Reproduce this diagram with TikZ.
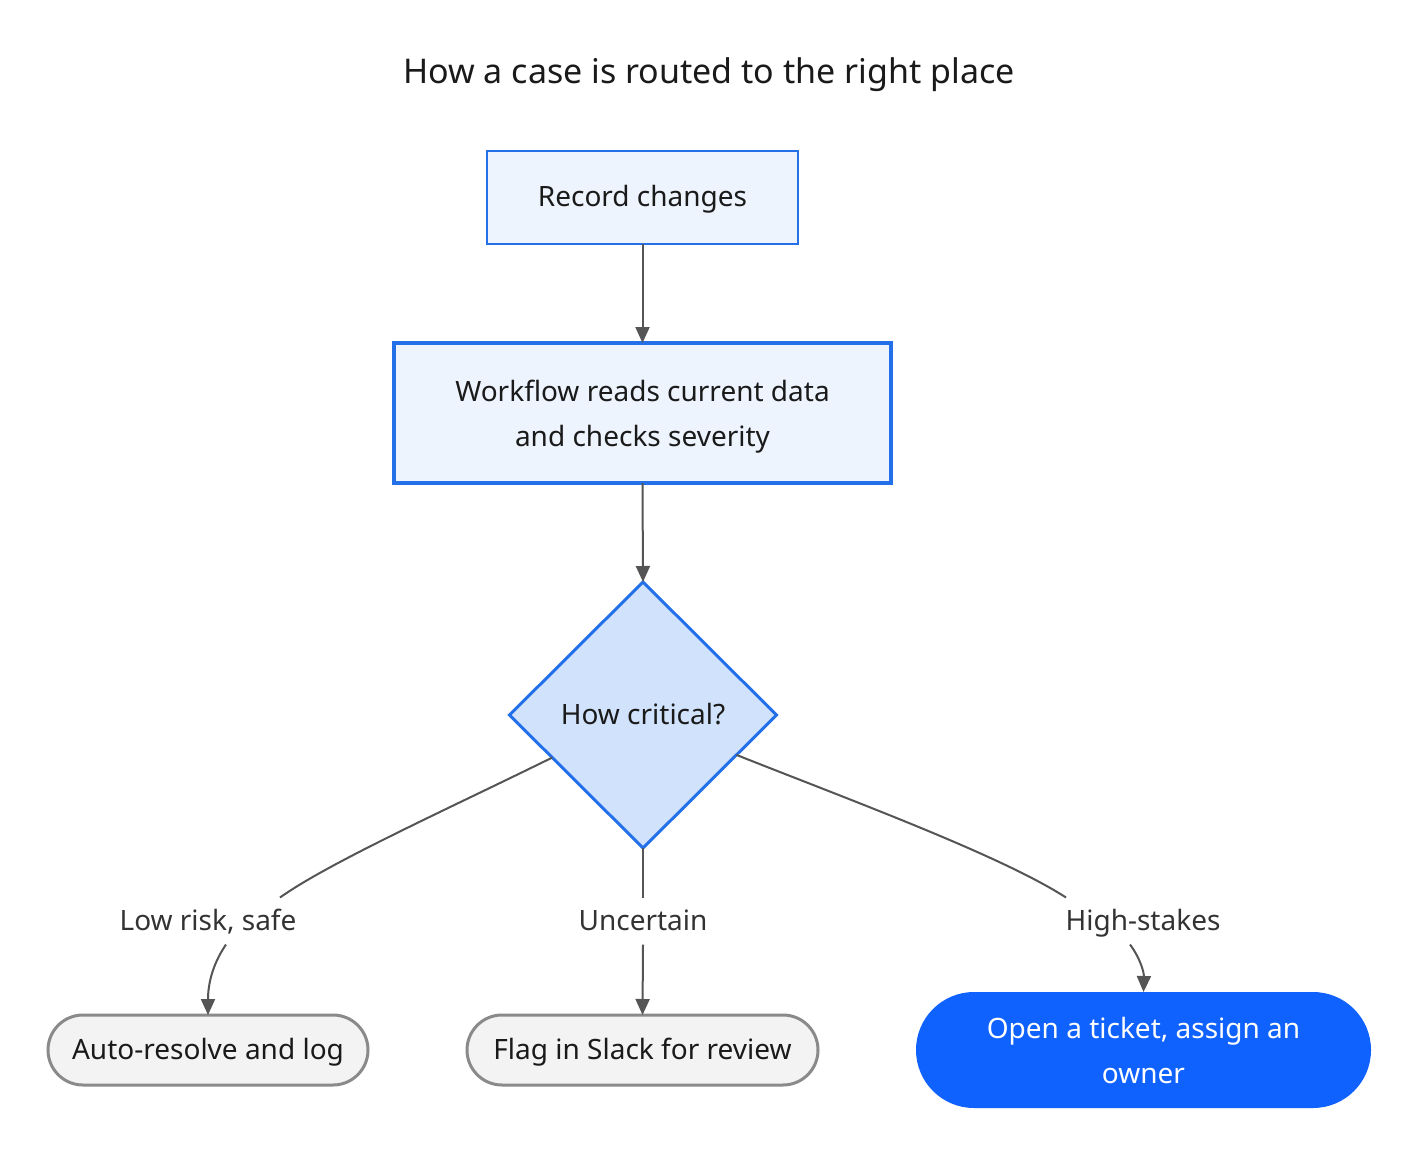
\documentclass[tikz,border=0pt]{standalone}
\usepackage{fontspec}
\setmainfont{Noto Sans}
\usetikzlibrary{shapes.geometric,arrows.meta,calc}
\definecolor{bstroke}{HTML}{2370E8}
\definecolor{lfill}{HTML}{EDF4FE}
\definecolor{dfill}{HTML}{D1E3FC}
\definecolor{gfill}{HTML}{F3F3F3}
\definecolor{gstroke}{HTML}{8A8A8A}
\definecolor{ibmblue}{HTML}{0F62FE}
\definecolor{edgec}{HTML}{555555}
\definecolor{txt}{HTML}{1A1A1A}
\definecolor{lbl}{HTML}{333333}
\begin{document}
\begin{tikzpicture}[x=0.5pt,y=-0.5pt,
  basefont/.style={font=\fontsize{14}{22.5}\selectfont},
  oneline/.style={text height=11pt, text depth=2pt},
  procbox/.style={basefont, draw=bstroke, fill=lfill, text=txt, align=center, inner sep=0pt, outer sep=0pt},
  decbox/.style={basefont, oneline, diamond, draw=bstroke, fill=dfill, text=txt, line width=1.5pt, inner sep=0pt, outer sep=0pt, minimum width=133.5pt, minimum height=133pt},
  greybox/.style={basefont, oneline, draw=gstroke, fill=gfill, text=txt, line width=1.5pt, rounded corners=17.5pt, minimum height=35pt, inner sep=0pt, outer sep=0pt},
  bluebox/.style={basefont, fill=ibmblue, text=white, align=center, rounded corners=29pt, minimum height=58pt, minimum width=227.5pt, inner sep=0pt, outer sep=0pt},
  elabel/.style={basefont, oneline, text=lbl, minimum height=23.5pt, inner sep=0pt, outer sep=0pt},
  edge/.style={draw=edgec, line width=1pt},
  arrowedge/.style={edge, -{Triangle[length=8pt,width=7pt]}}
]
\useasboundingbox (0,0) rectangle (1418,1156);
\fill[white] (0,0) rectangle (1418,1156);

\node[font=\fontsize{17}{20}\selectfont, text=txt, text height=13pt, text depth=2.5pt] (title) at (709,73) {How a case is routed to the right place};

\node[procbox, oneline, line width=1pt, minimum width=155.5pt, minimum height=46.5pt] (rec) at (642.5,197.5) {Record changes};
\node[procbox, text depth=0pt, line width=2pt, minimum width=248.5pt, minimum height=70pt] (wf) at (642.5,413) {Workflow reads current data\\and checks severity};
\node[decbox] (dia) at (643,715) {How critical?};

\node[elabel] (low) at (208,921) {Low risk, safe};
\node[elabel] (unc) at (643,921) {Uncertain};
\node[elabel] (high) at (1143,921) {High-stakes};

\node[greybox, minimum width=160pt] (auto) at (208,1050) {Auto-resolve and log};
\node[greybox, minimum width=175.5pt] (flag) at (642.5,1050) {Flag in Slack for review};
\node[bluebox, text depth=0pt] (open) at (1143.5,1050) {Open a ticket, assign an\\owner};

\draw[arrowedge] (rec.south) -- (wf.north);
\draw[arrowedge] (wf.south) -- (dia.north);

\draw[edge] ($(dia.west)!0.32!(dia.south)$) .. controls (450,808) and (330,862) .. ($(low.north)+(72,0)$);
\draw[arrowedge] ($(low.south)+(18,0)$) .. controls (212,965) and (208,985) .. (auto.north);

\draw[edge] (dia.south) -- (unc.north);
\draw[arrowedge] (unc.south) -- (flag.north);

\draw[edge] ($(dia.east)!0.3!(dia.south)$) .. controls (850,800) and (1000,855) .. ($(high.north)+(-77,0)$);
\draw[arrowedge] ($(high.south)+(-13,0)$) .. controls (1140,958) and (1144,972) .. (open.north);
\end{tikzpicture}
\end{document}
